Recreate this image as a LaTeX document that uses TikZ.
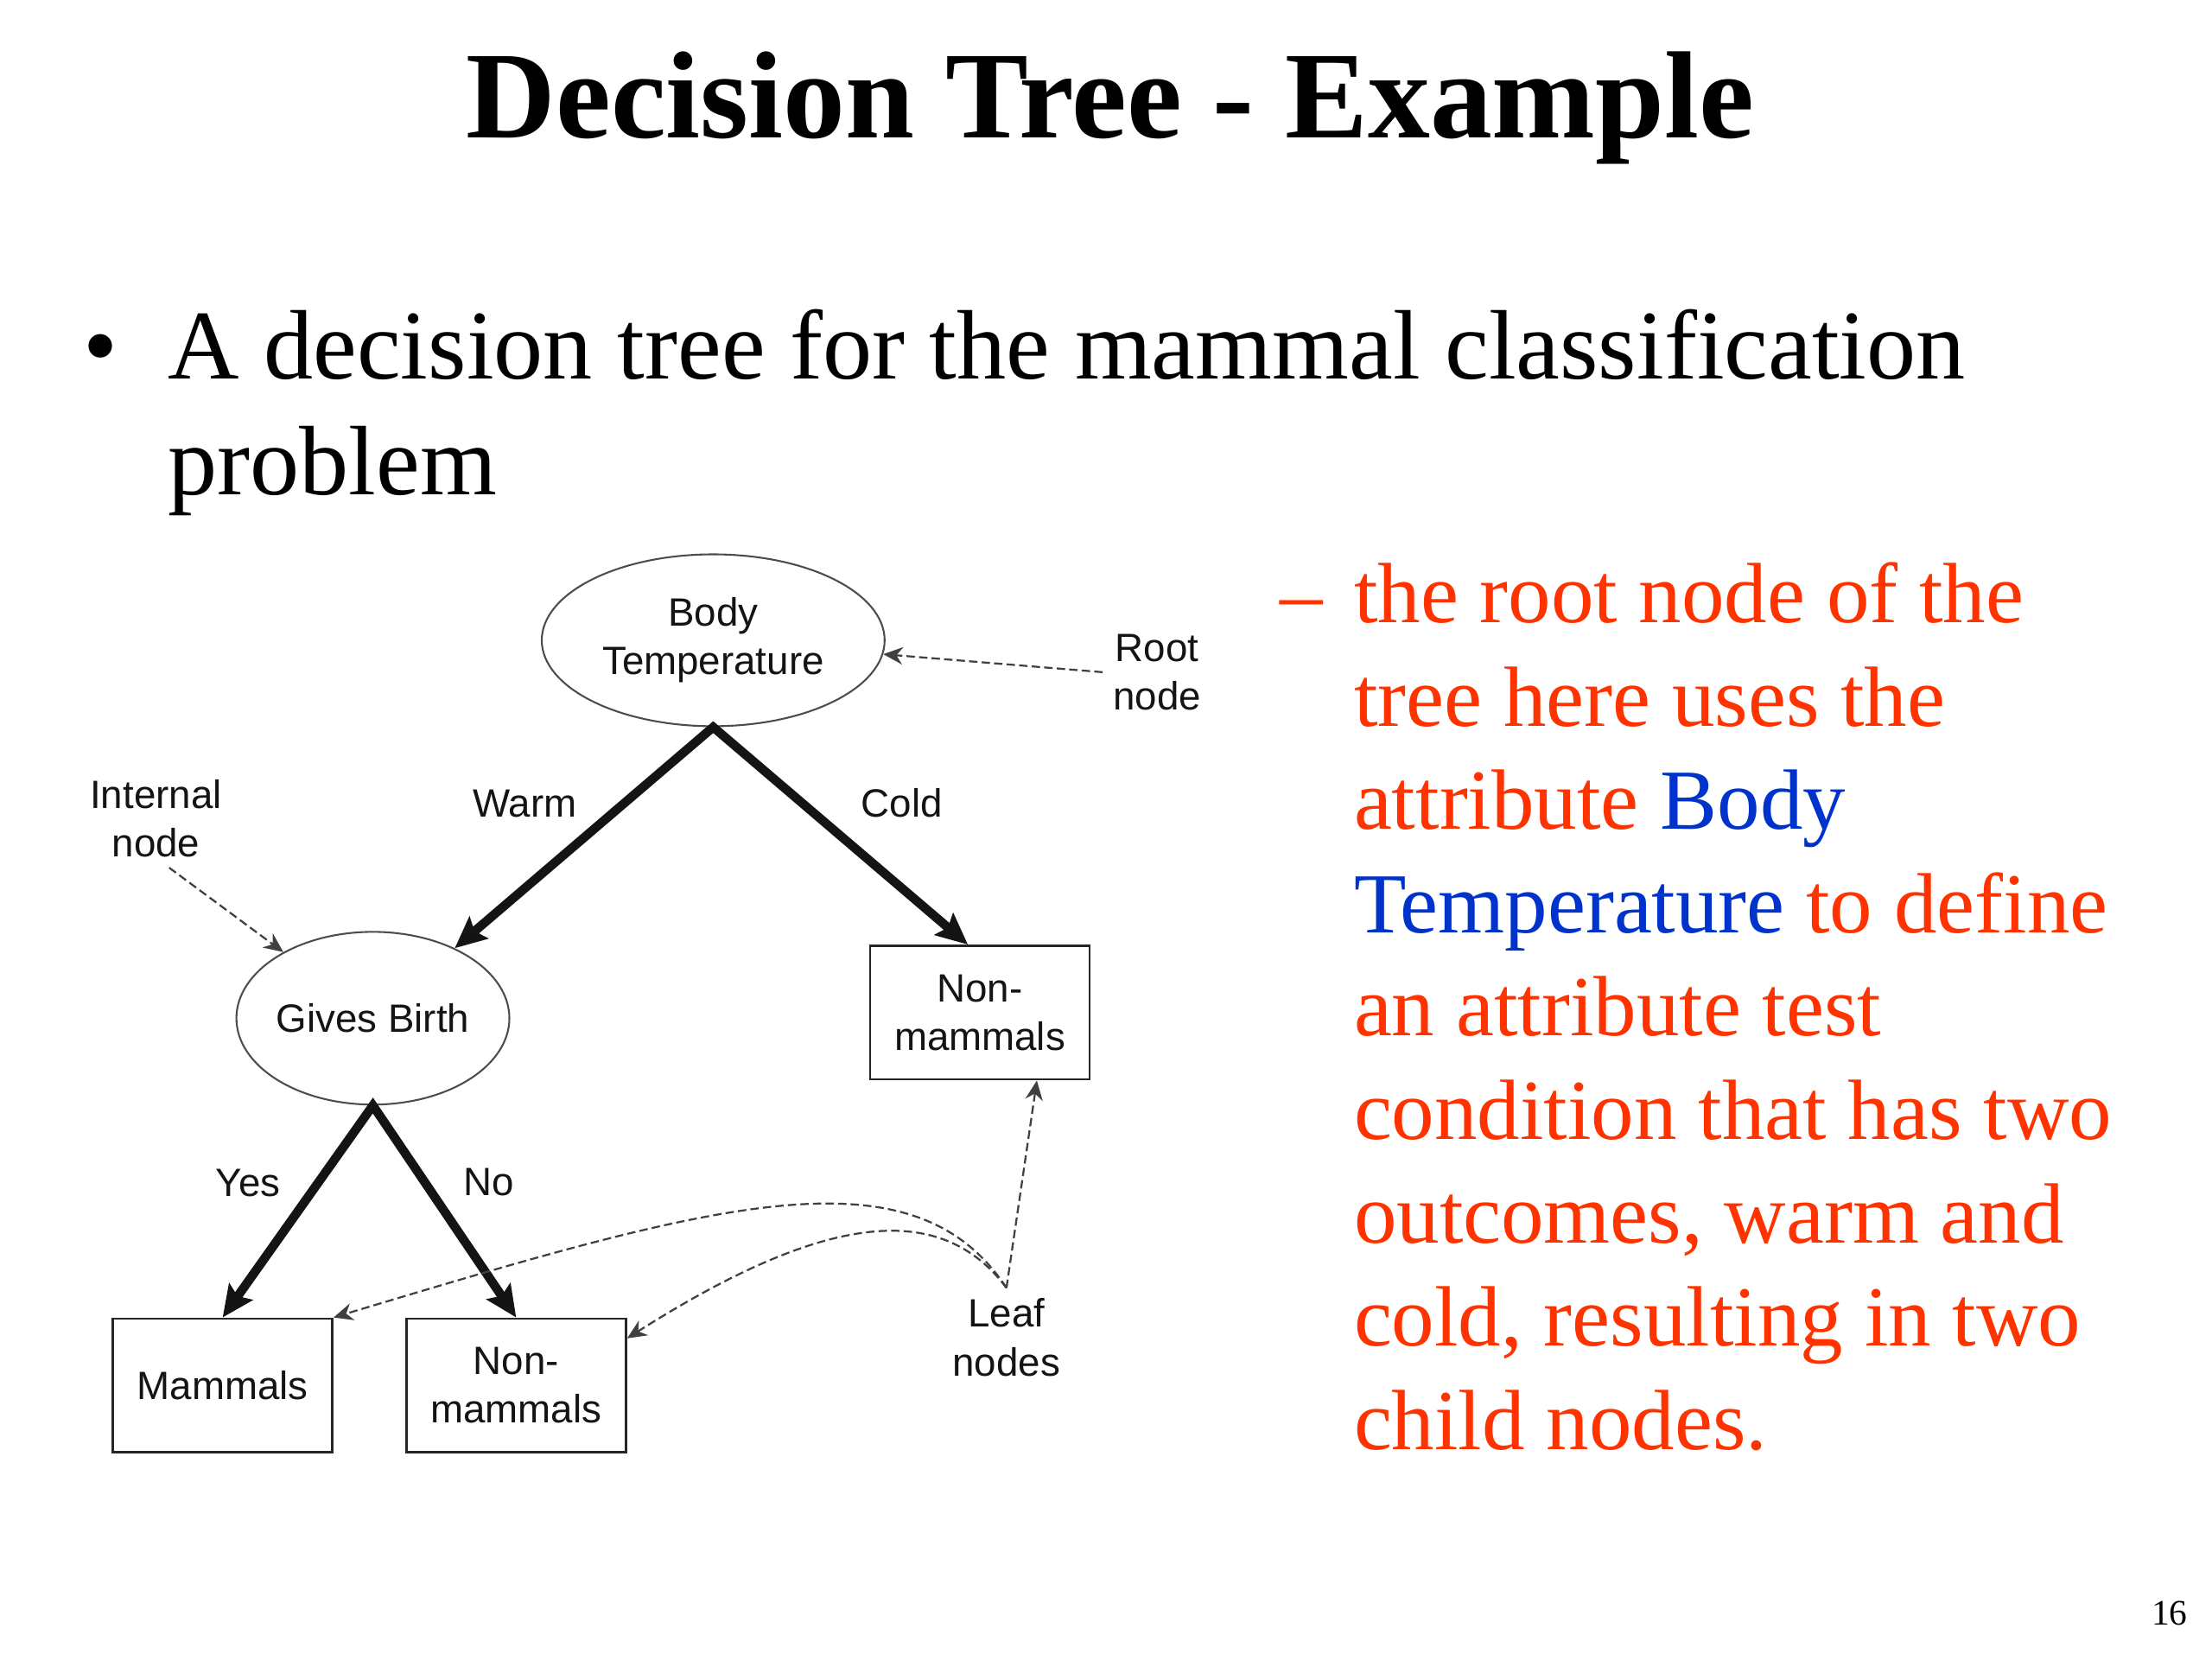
\documentclass[tikz,border=0pt]{standalone}
\usepackage{fontspec}
\setmainfont{Liberation Serif}
\newfontfamily\diagfont{Liberation Sans}
\usepackage{xcolor}
\usetikzlibrary{arrows.meta}
\usetikzlibrary{shapes.geometric}

\definecolor{slidered}{RGB}{255,51,0}
\definecolor{slideblue}{RGB}{0,51,204}

\begin{document}
\begin{tikzpicture}[
		testnode/.style={ellipse, draw=black!70, line width=0.6pt, inner sep=0pt, align=center, text=black!92, font=\diagfont\fontsize{13.2}{16.3}\selectfont},
		leafnode/.style={rectangle, draw=black!85, line width=0.8pt, inner sep=0pt, minimum width=2.58cm, minimum height=1.57cm, align=center, text=black!92, font=\diagfont\fontsize{13.2}{16.3}\selectfont},
		lbl/.style={align=center, text=black!92, font=\diagfont\fontsize{13.2}{16.3}\selectfont},
		branch/.style={<->, >={Stealth[length=10.5pt,width=9.5pt,inset=1.8pt]}, line width=3pt, draw=black!92},
		pointer/.style={->, >={Stealth[length=6.5pt,width=5.8pt]}, line width=0.65pt, draw=black!75, dash pattern=on 2.8pt off 1.4pt},
		redline/.style={anchor=base west, inner sep=0pt, text=slidered, font=\fontsize{28.6}{34.6}\selectfont}
	]

		\fill[white] (0,0) rectangle (26,-19.5);
		\useasboundingbox (0,0) rectangle (26,-19.5);

		\node[anchor=base] (title) at (13.05,-1.617) {\fontsize{41.5}{48}\selectfont\bfseries Decision Tree - Example};

		\node[anchor=base, inner sep=0pt] (bullet) at (1.183,-4.45) {\fontsize{33}{39}\selectfont\textbullet};
		\node[anchor=base west, inner sep=0pt] (intro1) at (1.967,-4.45) {\fontsize{33}{39}\selectfont A decision tree for the mammal classification};
		\node[anchor=base west, inner sep=0pt] (intro2) at (1.967,-5.817) {\fontsize{33}{39}\selectfont problem};

		% the tree
		\node[testnode, minimum width=4.03cm, minimum height=2.02cm] (bodytemp) at (8.383,-7.525) {Body\\Temperature};
		\node[testnode, minimum width=3.2cm, minimum height=2.03cm] (birth) at (4.383,-11.967) {Gives Birth};
		\node[leafnode] (nonmamR) at (11.517,-11.9) {Non-\\mammals};
		\node[leafnode] (mammals) at (2.617,-16.283) {Mammals};
		\node[leafnode] (nonmamL) at (6.067,-16.283) {Non-\\mammals};

		\draw[branch] (birth) -- (bodytemp.south) -- (nonmamR.100);
		\draw[branch] (mammals.north) -- (birth.south) -- (nonmamL.north);

		\node[lbl, anchor=base] (warm) at (6.167,-9.6) {Warm};
		\node[lbl, anchor=base] (cold) at (10.6,-9.6) {Cold};
		\node[lbl, anchor=base] (yes) at (2.917,-14.06) {Yes};
		\node[lbl, anchor=base] (no) at (5.742,-14.05) {No};

		% callouts
		\node[lbl] (rootlbl) at (13.6,-7.9) {Root\\node};
		\node[lbl] (intlbl) at (1.833,-9.617) {Internal\\node};
		\node[lbl] (leaflbl) at (11.83,-15.717) {Leaf\\nodes};

		\draw[pointer] (rootlbl.west) -- (bodytemp);
		\draw[pointer] (intlbl.-75) -- (birth);
		\draw[pointer] (leaflbl.north) -- (nonmamR.-50);
		\draw[pointer] (leaflbl.north) .. controls +(-1.1,1.667) and +(4.483,1.35) .. (mammals.north east);
		\draw[pointer] (leaflbl.north) .. controls +(-0.75,1.0) and +(2.39,1.52) .. (nonmamL.23);

		% red text
		\node[redline] (dash) at (15.043,-7.317) {\textendash};
		\node[redline] (txt1) at (15.908,-7.317) {the root node of the};
		\node[redline] (txt2) at (15.908,-8.532) {tree here uses the};
		\node[redline] (txt3) at (15.908,-9.747) {attribute {\color{slideblue}Body}};
		\node[redline] (txt4) at (15.908,-10.962) {{\color{slideblue}Temperature} to define};
		\node[redline] (txt5) at (15.908,-12.177) {an attribute test};
		\node[redline] (txt6) at (15.908,-13.392) {condition that has two};
		\node[redline] (txt7) at (15.908,-14.607) {outcomes, warm and};
		\node[redline] (txt8) at (15.908,-15.822) {cold, resulting in two};
		\node[redline] (txt9) at (15.908,-17.037) {child nodes.};

		\node[anchor=base east, inner sep=0pt] (pagenum) at (25.72,-19.1) {\fontsize{12}{14}\selectfont 16};
	\end{tikzpicture}
\end{document}
